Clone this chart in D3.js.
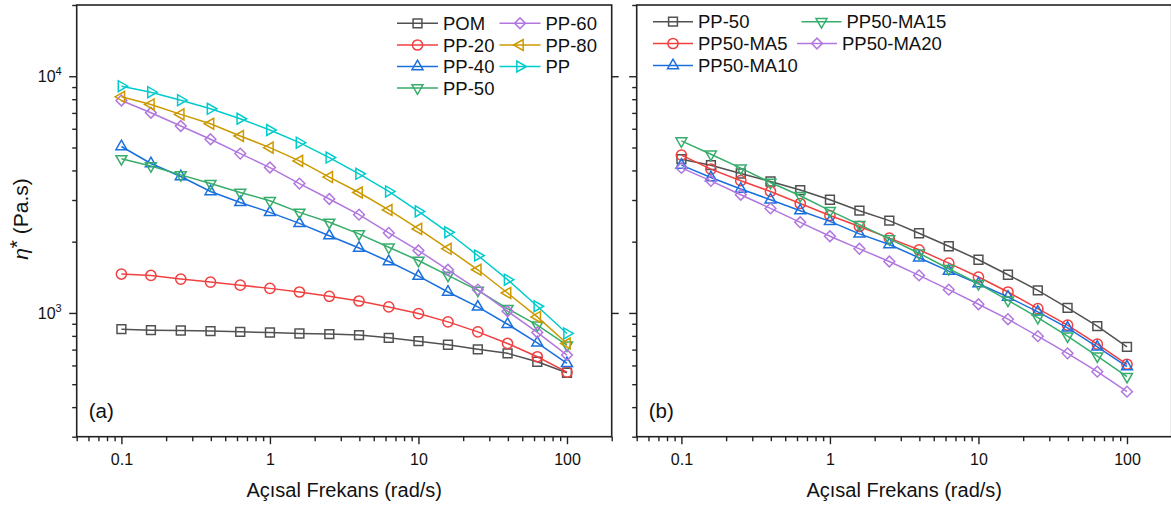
<!DOCTYPE html>
<html>
<head>
<meta charset="utf-8">
<script src="https://cdn.jsdelivr.net/npm/d3@7"></script>
<style>
  html, body { margin: 0; padding: 0; background: #fff; }
  svg { display: block; font-family: Arial, "Liberation Sans", sans-serif; }
</style>
</head>
<body>
<div id="chart"></div>
<script>
// angular frequency (rad/s), 5 points per decade
const freq = [0.1, 0.158, 0.251, 0.398, 0.631, 1, 1.58, 2.51, 3.98, 6.31, 10, 15.8, 25.1, 39.8, 63.1, 100];

// panel (a)
const pom  = [854, 846, 843, 838, 832, 827, 819, 814, 806, 785, 760, 734, 702, 675, 622, 559];
const pp20 = [1460, 1440, 1390, 1350, 1310, 1270, 1226, 1176, 1123, 1060, 994, 917, 832, 743, 653, 562];
const pp40 = [5050, 4280, 3770, 3260, 2930, 2660, 2390, 2120, 1880, 1650, 1430, 1226, 1060, 896, 748, 612];
const pp50 = [4480, 4180, 3830, 3520, 3230, 2980, 2660, 2415, 2158, 1895, 1666, 1441, 1246, 1043, 888, 731];
const pp60 = [7903, 7009, 6162, 5416, 4711, 4114, 3520, 3029, 2602, 2179, 1835, 1522, 1254, 1017, 827, 664];
const pp80 = [8185, 7603, 6901, 6300, 5592, 4993, 4389, 3750, 3228, 2723, 2265, 1866, 1522, 1214, 962, 743];
const pp   = [9078, 8565, 7925, 7286, 6613, 5928, 5241, 4533, 3870, 3262, 2686, 2192, 1748, 1382, 1067, 819];

// panel (b)
const pp50b  = [4464, 4210, 3882, 3592, 3304, 3008, 2704, 2455, 2171, 1913, 1678, 1450, 1246, 1050, 879, 719];
const ma5    = [4640, 4050, 3620, 3260, 2900, 2580, 2320, 2070, 1848, 1623, 1418, 1226, 1043, 888, 738, 607];
const ma10   = [4210, 3734, 3337, 3008, 2704, 2438, 2158, 1945, 1711, 1502, 1329, 1168, 1010, 865, 719, 593];
const ma15   = [5330, 4683, 4090, 3557, 3128, 2704, 2362, 2055, 1788, 1537, 1329, 1131, 956, 798, 657, 538];
const ma20   = [4100, 3616, 3158, 2765, 2415, 2109, 1866, 1650, 1441, 1254, 1088, 941, 798, 675, 565, 465];

const seriesA = [
    { name: "POM",   values: pom,  color: "#515151", shape: "square" },
    { name: "PP-20", values: pp20, color: "#F14040", shape: "circle" },
    { name: "PP-40", values: pp40, color: "#1A6FDF", shape: "up" },
    { name: "PP-50", values: pp50, color: "#37AD6B", shape: "down" },
    { name: "PP-60", values: pp60, color: "#B177DE", shape: "diamond" },
    { name: "PP-80", values: pp80, color: "#CC9900", shape: "left" },
    { name: "PP",    values: pp,   color: "#00CBCC", shape: "right" }
];
const seriesB = [
    { name: "PP-50",     values: pp50b, color: "#515151", shape: "square" },
    { name: "PP50-MA5",  values: ma5,   color: "#F14040", shape: "circle" },
    { name: "PP50-MA10", values: ma10,  color: "#1A6FDF", shape: "up" },
    { name: "PP50-MA15", values: ma15,  color: "#37AD6B", shape: "down" },
    { name: "PP50-MA20", values: ma20,  color: "#B177DE", shape: "diamond" }
];

const xDomain = [0.05, 200];
const yDomain = [300, 20000];
const xMajor = [0.1, 1, 10, 100];
const xLabels = ["0.1", "1", "10", "100"];

const W = 1171, H = 510;
const plotTop = 5, plotBottom = 436.7;

const svg = d3.select("#chart").append("svg")
    .attr("width", W)
    .attr("height", H);

function symbolPath(shape) {
    let gen;
    if (shape === "square") gen = d3.symbol(d3.symbolSquare, 78);
    else if (shape === "circle") gen = d3.symbol(d3.symbolCircle, 82);
    else if (shape === "diamond") gen = d3.symbol(d3.symbolSquare, 58);
    else gen = d3.symbol(d3.symbolTriangle, 52);
    return gen();
}
function symbolRotate(shape) {
    if (shape === "down") return 180;
    if (shape === "left") return -90;
    if (shape === "right") return 90;
    if (shape === "diamond") return 45;
    return 0;
}

function minorTicks(lo, hi) {
    let out = [];
    for (let e = Math.floor(Math.log10(lo)); e <= Math.ceil(Math.log10(hi)); e++) {
        for (let m = 2; m <= 9; m++) {
            let v = m * Math.pow(10, e);
            if (v >= lo && v <= hi) out.push(v);
        }
    }
    return out;
}

function drawPanel(x0, x1, series, tag, legend, showYLabels) {
    let x = d3.scaleLog().domain(xDomain).range([x0, x1]);
    let y = d3.scaleLog().domain(yDomain).range([plotBottom, plotTop]);
    let g = svg.append("g");

    // minor ticks
    g.append("g")
        .attr("transform", `translate(0,${plotBottom})`)
        .call(d3.axisBottom(x).tickValues(minorTicks(xDomain[0], xDomain[1])).tickSize(4.5).tickFormat(""))
        .call(a => a.select(".domain").remove())
        .selectAll("line").attr("stroke", "#222").attr("stroke-width", 1.4);
    g.append("g")
        .attr("transform", `translate(${x0},0)`)
        .call(d3.axisLeft(y).tickValues(minorTicks(yDomain[0], yDomain[1])).tickSize(4.5).tickFormat(""))
        .call(a => a.select(".domain").remove())
        .selectAll("line").attr("stroke", "#222").attr("stroke-width", 1.4);

    // major ticks
    let xAxis = g.append("g")
        .attr("transform", `translate(0,${plotBottom})`)
        .call(d3.axisBottom(x).tickValues(xMajor).tickSize(7.5).tickPadding(9)
            .tickFormat((d, i) => xLabels[i]));
    xAxis.select(".domain").remove();
    xAxis.selectAll("line").attr("stroke", "#222").attr("stroke-width", 1.4);
    xAxis.selectAll("text").attr("font-size", 16).attr("fill", "#111")
        .attr("font-family", "Arial, 'Liberation Sans', sans-serif");

    let yAxis = g.append("g")
        .attr("transform", `translate(${x0},0)`)
        .call(d3.axisLeft(y).tickValues([1000, 10000]).tickSize(7.5).tickFormat(""));
    yAxis.select(".domain").remove();
    yAxis.selectAll("line").attr("stroke", "#222").attr("stroke-width", 1.4);

    // mirrored major ticks on the right edge
    g.append("g")
        .attr("transform", `translate(${x1},0)`)
        .call(d3.axisLeft(y).tickValues([1000, 10000]).tickSize(-7).tickFormat(""))
        .call(a => a.select(".domain").remove())
        .selectAll("line").attr("stroke", "#222").attr("stroke-width", 1.4);

    if (showYLabels) {
        [[1000, "3"], [10000, "4"]].forEach(([v, p]) => {
            let t = g.append("text")
                .attr("x", x0 - 15)
                .attr("y", y(v) + 6)
                .attr("text-anchor", "end")
                .attr("font-size", 16)
                .attr("fill", "#111");
            t.append("tspan").text("10");
            t.append("tspan").attr("font-size", 11).attr("dy", -7).text(p);
        });
    }

    // frame
    g.append("rect")
        .attr("x", x0).attr("y", plotTop)
        .attr("width", x1 - x0).attr("height", plotBottom - plotTop)
        .attr("fill", "none")
        .attr("stroke", "#222")
        .attr("stroke-width", 1.6);

    let line = d3.line()
        .x((d, i) => x(freq[i]))
        .y(d => y(d));

    series.forEach(s => {
        let sg = g.append("g");
        sg.append("path")
            .datum(s.values)
            .attr("d", line)
            .attr("fill", "none")
            .attr("stroke", s.color)
            .attr("stroke-width", 1.5);
        sg.selectAll("path.pt")
            .data(s.values)
            .enter()
            .append("path")
                .attr("class", "pt")
                .attr("d", symbolPath(s.shape))
                .attr("transform", (d, i) => `translate(${x(freq[i])},${y(d)}) rotate(${symbolRotate(s.shape)})`)
                .attr("fill", "none")
                .attr("stroke", s.color)
                .attr("stroke-width", 1.5);
    });

    // legend
    series.forEach((s, i) => {
        let lx = legend.itemX[i];
        let ly = legend.rowY[legend.rows[i]];
        svg.append("line")
            .attr("x1", lx).attr("x2", lx + legend.lineLen)
            .attr("y1", ly).attr("y2", ly)
            .attr("stroke", s.color).attr("stroke-width", 1.5);
        svg.append("path")
            .attr("d", symbolPath(s.shape))
            .attr("transform", `translate(${lx + legend.lineLen / 2},${ly}) rotate(${symbolRotate(s.shape)})`)
            .attr("fill", "none")
            .attr("stroke", s.color)
            .attr("stroke-width", 1.5);
        svg.append("text")
            .attr("x", lx + legend.lineLen + 5)
            .attr("y", ly + 6.5)
            .attr("font-size", 18.5)
            .attr("fill", "#111")
            .text(s.name);
    });

    // panel tag
    svg.append("text")
        .attr("x", x0 + 12)
        .attr("y", 418)
        .attr("font-size", 20.5)
        .attr("fill", "#111")
        .text(tag);

    // x title
    svg.append("text")
        .attr("x", (x0 + x1) / 2)
        .attr("y", 497)
        .attr("text-anchor", "middle")
        .attr("font-size", 20)
        .attr("fill", "#111")
        .text("Açısal Frekans (rad/s)");
}

drawPanel(76.7, 611.7, seriesA, "(a)", {
    itemX: [397, 397, 397, 397, 499.5, 499.5, 499.5],
    rowY: [23.3, 45, 66.5, 88], lineLen: 41,
    rows: [0, 1, 2, 3, 0, 1, 2]
}, true);

drawPanel(636.7, 1171.7, seriesB, "(b)", {
    itemX: [653, 653, 653, 801.5, 797],
    rowY: [21.7, 43.5, 65.5], lineLen: 40,
    rows: [0, 1, 2, 0, 1]
}, false);

// y title
let yt = svg.append("text")
    .attr("transform", "translate(28,219) rotate(-90)")
    .attr("text-anchor", "middle")
    .attr("font-size", 21)
    .attr("fill", "#111");
yt.append("tspan").attr("font-style", "italic").text("η");
yt.append("tspan").attr("dy", -4).text("*");
yt.append("tspan").attr("dy", 4).text(" (Pa.s)");
</script>
</body>
</html>
